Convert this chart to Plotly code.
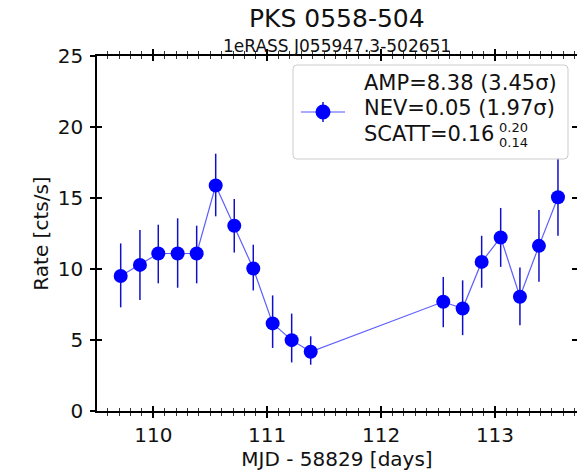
import plotly.graph_objects as go

# ---------------- data ----------------
title_text = "PKS 0558-504"
subtitle_text = "1eRASS J055947.3-502651"
x_label = "MJD - 58829 [days]"
y_label = "Rate [cts/s]"

t_days = [109.714, 109.883, 110.044, 110.214, 110.381, 110.548, 110.711, 110.878,
          111.048, 111.215, 111.382, 112.546, 112.716, 112.883, 113.050, 113.219,
          113.386, 113.553]
rate = [9.51, 10.29, 11.09, 11.09, 11.09, 15.88, 13.05, 10.03, 6.17, 4.99, 4.17,
        7.69, 7.22, 10.50, 12.22, 8.05, 11.63, 15.05]
rate_hi = [11.80, 12.74, 13.12, 13.57, 13.05, 18.12, 14.93, 11.71, 8.14, 6.86, 5.26,
           9.44, 9.20, 12.34, 14.30, 10.10, 14.15, 17.83]
rate_lo = [7.30, 7.81, 8.99, 8.68, 8.99, 13.71, 11.16, 8.49, 4.44, 3.42, 3.26,
           5.90, 5.34, 8.68, 10.15, 6.04, 9.11, 12.34]

legend_lines = ["AMP=8.38 (3.45σ)", "NEV=0.05 (1.97σ)", "SCATT=0.16"]
scatt_sup = "0.20"
scatt_sub = "0.14"

x_range = [109.506, 113.72]
y_range = [0, 25]
x_ticks = [110, 111, 112, 113]
y_ticks = [0, 5, 10, 15, 20, 25]

# ---------------- layout geometry ----------------
W, H = 577, 473
L, R, T, B = 97, 0, 56, 62
PW, PH = W - L - R, H - T - B

def px(xp):
    return (xp - L) / PW

def py(yp):
    return (H - B - yp) / PH

FONT = "DejaVu Sans"
BLUE = "#0000ff"

err_plus = [h - r for h, r in zip(rate_hi, rate)]
err_minus = [r - l for r, l in zip(rate, rate_lo)]

fig = go.Figure()
fig.add_trace(go.Scatter(
    x=t_days, y=rate, mode="lines+markers",
    line=dict(color="rgba(40,40,255,0.75)", width=1.2),
    marker=dict(color=BLUE, size=14, line=dict(width=0)),
    error_y=dict(type="data", array=err_plus, arrayminus=err_minus,
                 color="#1010c8", thickness=1.5, width=0, symmetric=False),
    showlegend=False, cliponaxis=False,
))
# dummy trace to register overlay axes (for in/out ticks)
fig.add_trace(go.Scatter(x=[None], y=[None], xaxis="x2", yaxis="y2",
                         showlegend=False, hoverinfo="skip"))

axis_common = dict(showgrid=False, zeroline=False, linecolor="black", linewidth=1.5,
                   tickcolor="black", tickwidth=1.5)

fig.update_layout(
    width=W, height=H, margin=dict(l=L, r=R, t=T, b=B),
    paper_bgcolor="white", plot_bgcolor="white",
    font=dict(family=FONT, color="#111111", size=20),
    xaxis=dict(range=x_range, tickvals=x_ticks, ticks="outside", ticklen=5,
               showline=True, mirror="allticks",
               minor=dict(dtick=0.1, tick0=110, ticks="outside", ticklen=3,
                          tickwidth=1, tickcolor="#333"),
               tickfont=dict(size=20), ticklabelstandoff=0,
               title=dict(text=x_label, font=dict(size=20), standoff=2),
               **axis_common),
    yaxis=dict(range=y_range, tickvals=y_ticks, ticks="outside", ticklen=5,
               showline=True, mirror=False,
               tickfont=dict(size=20), ticklabelstandoff=3,
               title=dict(text=y_label, font=dict(size=20), standoff=4),
               **axis_common),
    xaxis2=dict(overlaying="x", matches="x", range=x_range, tickvals=x_ticks,
                ticks="inside", ticklen=5, showline=False, mirror="allticks",
                showticklabels=False,
                minor=dict(dtick=0.1, tick0=110, ticks="inside", ticklen=3,
                           tickwidth=1, tickcolor="#333"),
                **axis_common),
    yaxis2=dict(overlaying="y", matches="y", range=y_range, tickvals=y_ticks,
                ticks="inside", ticklen=5, showline=False, mirror="allticks",
                showticklabels=False, **axis_common),
)

# ---------------- titles ----------------
ann = []
ann.append(dict(text=title_text, x=0.5, y=py(19), xref="paper", yref="paper",
                xanchor="center", yanchor="middle", showarrow=False,
                font=dict(size=25, family=FONT, color="#111")))
ann.append(dict(text=subtitle_text, x=0.5, y=py(46), xref="paper", yref="paper",
                xanchor="center", yanchor="middle", showarrow=False,
                font=dict(size=17, family=FONT, color="#111")))

# ---------------- legend box ----------------
bx0, bx1, by0, by1 = px(293), px(568), py(159), py(65)
rx, ry = 4 / PW, 4 / PH
path = (f"M {bx0+rx},{by1} L {bx1-rx},{by1} Q {bx1},{by1} {bx1},{by1-ry} "
        f"L {bx1},{by0+ry} Q {bx1},{by0} {bx1-rx},{by0} L {bx0+rx},{by0} "
        f"Q {bx0},{by0} {bx0},{by0+ry} L {bx0},{by1-ry} Q {bx0},{by1} {bx0+rx},{by1} Z")
shapes = [dict(type="path", path=path, xref="paper", yref="paper",
               line=dict(color="#cccccc", width=1), fillcolor="rgba(255,255,255,0.85)",
               layer="above")]
# legend handle
sym_y = py(112)
shapes.append(dict(type="line", xref="paper", yref="paper", x0=px(301), x1=px(345),
                   y0=sym_y, y1=sym_y, line=dict(color="rgba(40,40,255,0.8)", width=1.2),
                   layer="above"))
shapes.append(dict(type="line", xref="paper", yref="paper", x0=px(323), x1=px(323),
                   y0=py(122), y1=py(102), line=dict(color="#1010c8", width=1.5),
                   layer="above"))
shapes.append(dict(type="circle", xref="paper", yref="paper",
                   x0=px(323 - 7.5), x1=px(323 + 7.5), y0=py(112 + 7.5), y1=py(112 - 7.5),
                   fillcolor=BLUE, line=dict(width=0), layer="above"))

text_x = px(362)
for i, (txt, yc) in enumerate(zip(legend_lines, [83, 108, 134])):
    ann.append(dict(text=txt, x=text_x, y=py(yc), xref="paper", yref="paper",
                    xanchor="left", yanchor="middle", showarrow=False,
                    font=dict(size=21, family=FONT, color="#111")))
ann.append(dict(text=scatt_sup, x=px(497), y=py(128), xref="paper", yref="paper",
                xanchor="left", yanchor="middle", showarrow=False,
                font=dict(size=13, family=FONT, color="#111")))
ann.append(dict(text=scatt_sub, x=px(497), y=py(142), xref="paper", yref="paper",
                xanchor="left", yanchor="middle", showarrow=False,
                font=dict(size=13, family=FONT, color="#111")))

fig.update_layout(annotations=ann, shapes=shapes)
fig.write_html("out.html")
